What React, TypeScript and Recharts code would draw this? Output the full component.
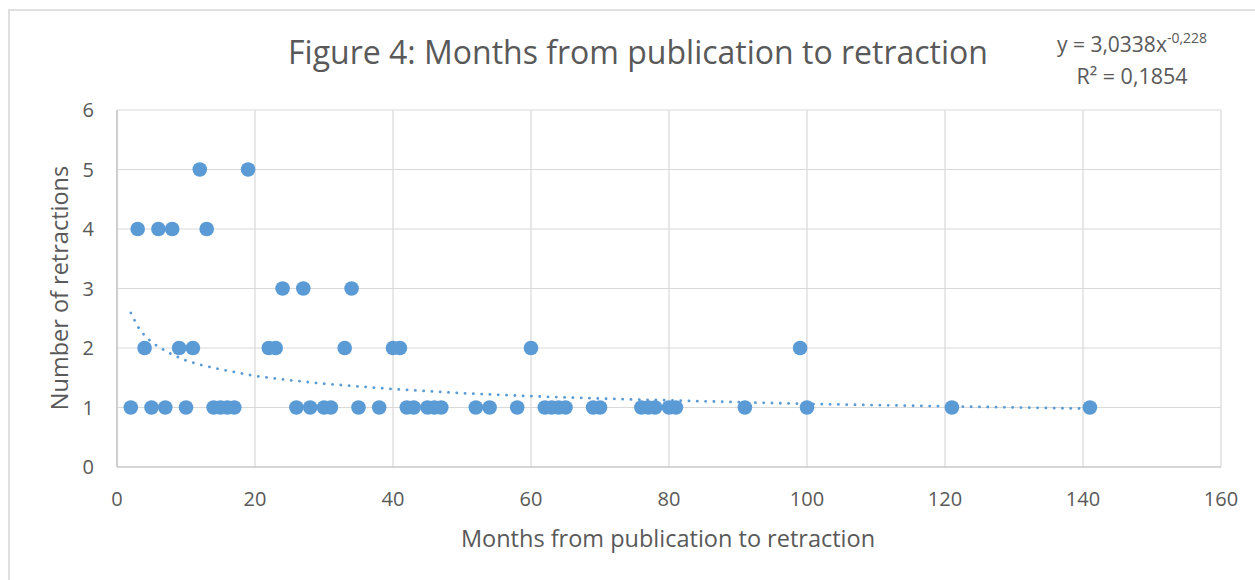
import React from 'react'
import { ScatterChart, Scatter, XAxis, YAxis, CartesianGrid } from 'recharts'

// months from publication to retraction, and how many retractions at that month
const months = [
  2, 5, 7, 10, 14, 15, 16, 17, 26, 28, 30, 31, 35, 38, 42, 43, 45, 46, 47, 52, 54, 58, 62, 63, 64, 65, 69, 70, 76, 77, 78, 80, 81, 91, 100, 121, 141,
  4, 9, 11, 22, 23, 33, 40, 41, 60, 99,
  24, 27, 34,
  3, 6, 8, 13,
  12, 19,
]
const retractions = [
  1, 1, 1, 1, 1, 1, 1, 1, 1, 1, 1, 1, 1, 1, 1, 1, 1, 1, 1, 1, 1, 1, 1, 1, 1, 1, 1, 1, 1, 1, 1, 1, 1, 1, 1, 1, 1,
  2, 2, 2, 2, 2, 2, 2, 2, 2, 2,
  3, 3, 3,
  4, 4, 4, 4,
  5, 5,
]

// power trendline
const trendMonths = [2, 3, 4, 5, 6, 8, 10, 12, 15, 20, 25, 30, 40, 50, 60, 70, 80, 100, 120, 141]
const trendValues = [2.59, 2.36, 2.21, 2.1, 2.02, 1.89, 1.79, 1.72, 1.64, 1.53, 1.46, 1.4, 1.31, 1.24, 1.19, 1.15, 1.12, 1.06, 1.02, 0.98]

const xTicks = [0, 20, 40, 60, 80, 100, 120, 140, 160]
const yTicks = [0, 1, 2, 3, 4, 5, 6]

const BLUE = '#5B9BD5'
const TEXT = '#595959'
const FONT = '"Open Sans", sans-serif'

const points = months.map((m, i) => ({ x: m, y: retractions[i] }))
const trend = trendMonths.map((m, i) => ({ x: m, y: trendValues[i] }))

const Dot = (props: any) => <circle cx={props.cx} cy={props.cy} r={7.3} fill={BLUE} />
const NoDot = () => <g />

export default function App() {
  return (
    <div style={{ position: 'fixed', left: 0, top: 0, width: 1255, height: 580, overflow: 'hidden', background: '#fff', fontFamily: FONT }}>
      <div style={{ position: 'absolute', left: 8, top: 9, width: 1300, height: 620, border: '2px solid #e0e0e0', boxSizing: 'border-box' }} />
      <div style={{ position: 'absolute', left: 0, top: 0 }}>
        <ScatterChart width={1255} height={580} margin={{ top: 110, right: 34, bottom: 73, left: 57 }}>
          <CartesianGrid stroke="#d9d9d9" strokeWidth={1.2} />
          <XAxis
            type="number"
            dataKey="x"
            domain={[0, 160]}
            ticks={xTicks}
            tickSize={0}
            tickMargin={25}
            height={40}
            axisLine={{ stroke: '#bfbfbf', strokeWidth: 1.2 }}
            tick={{ fill: TEXT, fontSize: 20, fontFamily: FONT }}
          />
          <YAxis
            type="number"
            dataKey="y"
            domain={[0, 6]}
            ticks={yTicks}
            tickSize={0}
            tickMargin={23}
            width={60}
            axisLine={{ stroke: '#bfbfbf', strokeWidth: 1.2 }}
            tick={{ fill: TEXT, fontSize: 20, fontFamily: FONT }}
          />
          <Scatter
            data={trend}
            shape={NoDot}
            line={{ stroke: BLUE, strokeWidth: 2.8, strokeDasharray: '0.1 8.2', strokeLinecap: 'round' }}
            isAnimationActive={false}
          />
          <Scatter data={points} shape={Dot} isAnimationActive={false} />
        </ScatterChart>
      </div>
      <svg style={{ position: 'absolute', left: 0, top: 0 }} width={1255} height={580}>
        <text x={638} y={64} textAnchor="middle" fill={TEXT} fontSize={32} fontFamily={FONT}>
          Figure 4: Months from publication to retraction
        </text>
        <text x={1132} y={52} textAnchor="middle" fill={TEXT} fontSize={21} fontFamily={FONT}>
          y = 3,0338x<tspan fontSize={14} dy={-9}>-0,228</tspan>
        </text>
        <text x={1132} y={84} textAnchor="middle" fill={TEXT} fontSize={21.5} fontFamily={FONT}>
          R² = 0,1854
        </text>
        <text x={668} y={547} textAnchor="middle" fill={TEXT} fontSize={23.5} fontFamily={FONT}>
          Months from publication to retraction
        </text>
        <text x={68} y={288} textAnchor="middle" fill={TEXT} fontSize={23.5} fontFamily={FONT} transform="rotate(-90 68 288)">
          Number of retractions
        </text>
      </svg>
    </div>
  )
}
